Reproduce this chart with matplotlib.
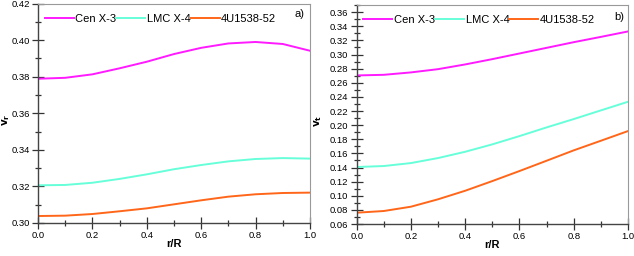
import matplotlib
matplotlib.use('Agg')
import matplotlib.pyplot as plt
from matplotlib.ticker import MultipleLocator

plt.rcParams['font.family'] = ['Liberation Sans', 'DejaVu Sans']

# r/R values
r = [0.0, 0.1, 0.2, 0.3, 0.4, 0.5, 0.6, 0.7, 0.8, 0.9, 1.0]

# panel a) v_r
vr_cen = [0.3789, 0.3794, 0.3813, 0.3846, 0.3882, 0.3924, 0.3958, 0.3982, 0.3990, 0.3979, 0.3942]
vr_lmc = [0.3206, 0.3208, 0.3220, 0.3241, 0.3266, 0.3294, 0.3317, 0.3337, 0.3350, 0.3355, 0.3352]
vr_4u = [0.3038, 0.3040, 0.3049, 0.3064, 0.3080, 0.3102, 0.3124, 0.3144, 0.3157, 0.3164, 0.3166]

# panel b) v_t
vt_cen = [0.2704, 0.2713, 0.2747, 0.2793, 0.2860, 0.2935, 0.3015, 0.3095, 0.3175, 0.3250, 0.3327]
vt_lmc = [0.1407, 0.1421, 0.1463, 0.1534, 0.1623, 0.1728, 0.1845, 0.1968, 0.2086, 0.2209, 0.2331]
vt_4u = [0.0760, 0.0784, 0.0845, 0.0950, 0.1071, 0.1208, 0.1350, 0.1496, 0.1643, 0.1779, 0.1916]

names = ['Cen X-3', 'LMC X-4', '4U1538-52']
colors = ['#ff1aff', '#66ffd9', '#ff6619']

fig = plt.figure(figsize=(6.34, 2.56), dpi=100)
ax1 = fig.add_axes([0.0599, 0.129, 0.4291, 0.857])
ax2 = fig.add_axes([0.5626, 0.125, 0.4279, 0.855])


def style(ax, ylim, ylabel, tag, lx, tx, ty):
    ax.set_xlim(0, 1)
    ax.set_ylim(*ylim)
    ax.xaxis.set_major_locator(MultipleLocator(0.2))
    ax.xaxis.set_minor_locator(MultipleLocator(0.1))
    ax.yaxis.set_major_locator(MultipleLocator(0.02))
    ax.yaxis.set_minor_locator(MultipleLocator(0.01))
    ax.xaxis.set_major_formatter(lambda v, p: f'{v:.1f}')
    ax.yaxis.set_major_formatter(lambda v, p: f'{v:.2f}')
    ax.tick_params(which='major', direction='inout', length=8, width=0.9,
                   color='#333333', labelsize=6.8, pad=2)
    ax.tick_params(which='minor', direction='inout', length=5, width=0.9,
                   color='#333333')
    for s in ['left', 'bottom']:
        ax.spines[s].set_color('#444444')
        ax.spines[s].set_linewidth(1.0)
    for s in ['top', 'right']:
        ax.spines[s].set_color('#999999')
        ax.spines[s].set_linewidth(0.8)
    ax.set_xlabel('r/R', fontsize=8, fontweight='bold')
    ax.xaxis.set_label_coords(0.5, -0.075)
    ax.set_ylabel(ylabel, fontsize=7.5, fontweight='bold')
    ax.yaxis.set_label_coords(lx, 0.47)
    ax.text(tx, ty, tag, transform=ax.transAxes, fontsize=8,
            ha='center', va='center')
    ax.legend(loc='upper left', bbox_to_anchor=(0.0, 0.985), ncol=3,
              frameon=False, fontsize=8, handlelength=2.6,
              handletextpad=0.15, columnspacing=0.0, borderaxespad=0.2)


for ys, c, n in zip([vr_cen, vr_lmc, vr_4u], colors, names):
    ax1.plot(r, ys, color=c, lw=1.4, label=n)
for ys, c, n in zip([vt_cen, vt_lmc, vt_4u], colors, names):
    ax2.plot(r, ys, color=c, lw=1.4, label=n)

style(ax1, (0.30, 0.42), r'$\mathbf{v_r}$', 'a)', -0.097, 0.963, 0.952)
style(ax2, (0.06, 0.37), r'$\mathbf{v_t}$', 'b)', -0.122, 0.967, 0.945)

fig.savefig('out.png', dpi=100)
